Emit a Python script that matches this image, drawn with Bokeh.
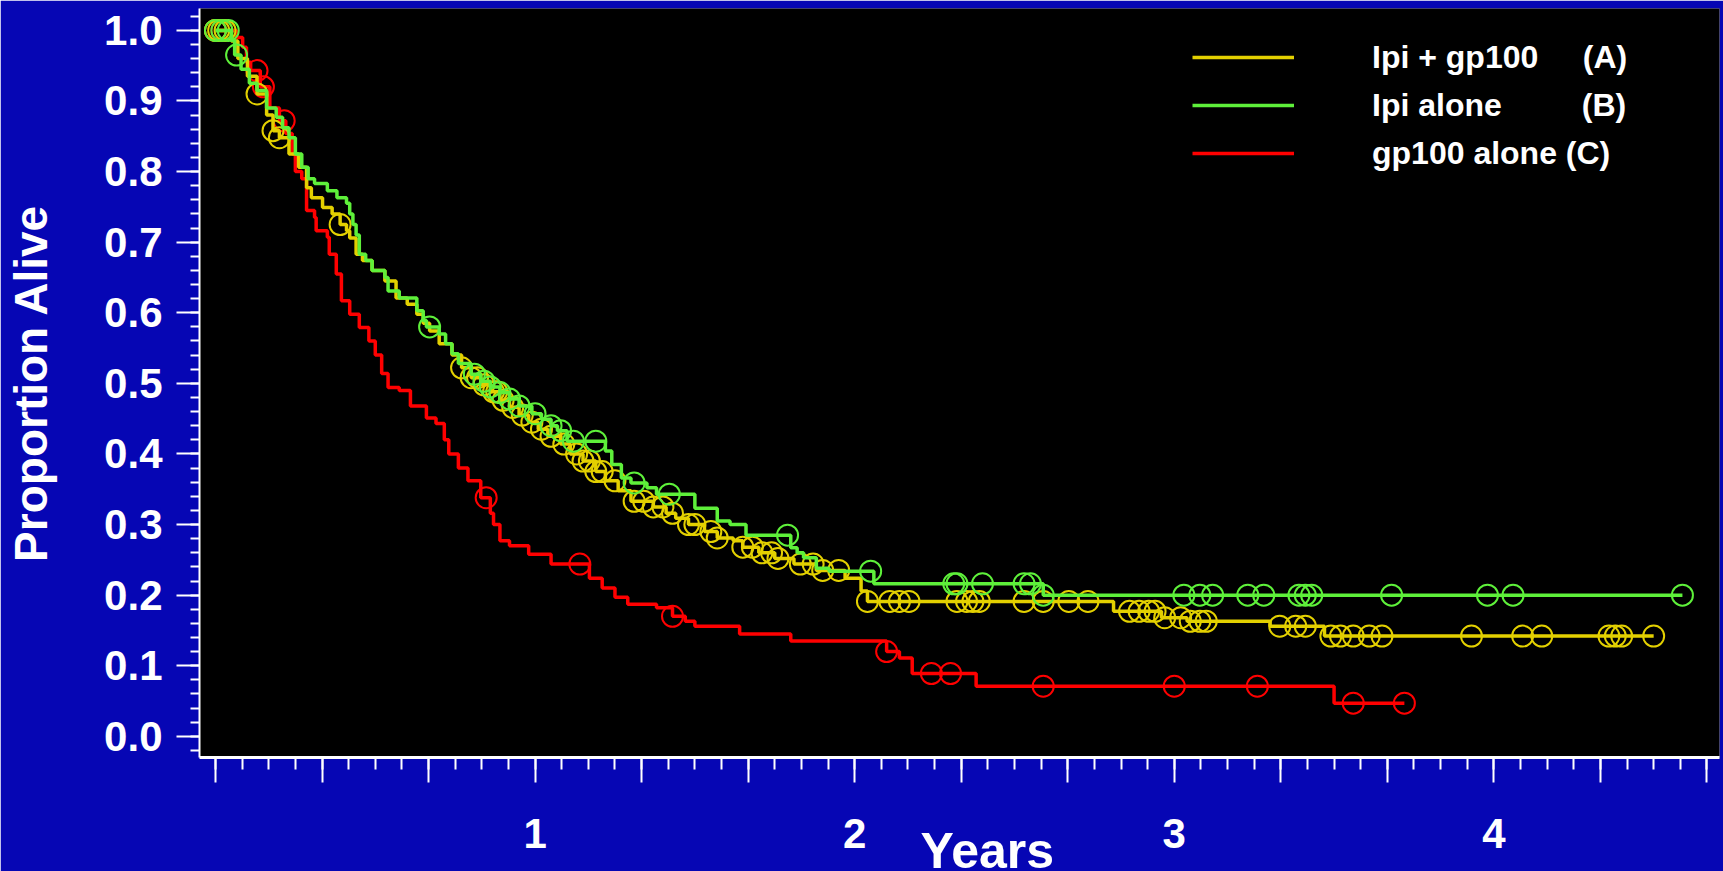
import numpy as np
from bokeh.plotting import figure
from bokeh.models import (FixedTicker, CustomJSTickFormatter, PrintfTickFormatter,
                          Legend, LegendItem, Range1d)
from bokeh.embed import file_html
from bokeh.resources import INLINE

# ---------------- data (years, proportion alive) ----------------
# Ipi + gp100 (A)
a_t = [0.00, 0.05, 0.07, 0.10, 0.13, 0.16, 0.18, 0.20, 0.23, 0.26, 0.285, 0.30, 0.335, 0.365,
       0.39, 0.41, 0.42, 0.44, 0.46, 0.49, 0.53, 0.565, 0.60, 0.63, 0.65, 0.67, 0.70, 0.74,
       0.77, 0.80, 0.83, 0.86, 0.89, 0.92, 0.95, 0.98, 1.01, 1.04, 1.08, 1.11, 1.15, 1.19,
       1.22, 1.26, 1.30, 1.37, 1.41, 1.44, 1.48, 1.53, 1.57, 1.62, 1.65, 1.70, 1.75, 1.81,
       1.88, 1.97, 2.02, 2.04, 2.81, 2.96, 3.04, 3.30, 3.47]
a_s = [1.000, 0.985, 0.960, 0.935, 0.910, 0.880, 0.858, 0.848, 0.825, 0.806, 0.777, 0.763, 0.749, 0.740,
       0.725, 0.716, 0.706, 0.683, 0.674, 0.660, 0.645, 0.621, 0.612, 0.598, 0.585, 0.574, 0.556, 0.540,
       0.522, 0.508, 0.498, 0.488, 0.476, 0.466, 0.455, 0.445, 0.435, 0.425, 0.414, 0.400, 0.390, 0.375,
       0.362, 0.348, 0.333, 0.325, 0.316, 0.309, 0.300, 0.290, 0.281, 0.277, 0.268, 0.260, 0.252, 0.244,
       0.235, 0.224, 0.206, 0.191, 0.177, 0.168, 0.163, 0.156, 0.142]
a_end = 4.50
a_cens = [0.0, 0.01, 0.03, 0.13, 0.18, 0.20, 0.39, 0.77, 0.80, 0.82, 0.84, 0.87, 0.88, 0.90, 0.93,
          0.96, 0.99, 1.02, 1.05, 1.09, 1.13, 1.15, 1.17, 1.19, 1.21, 1.25, 1.31, 1.34, 1.37, 1.40,
          1.43, 1.48, 1.50, 1.55, 1.57, 1.65, 1.68, 1.71, 1.74, 1.76, 1.83, 1.87, 1.90, 1.95, 2.04,
          2.11, 2.14, 2.17, 2.32, 2.35, 2.37, 2.39, 2.53, 2.59, 2.67, 2.73, 2.86, 2.89, 2.92, 2.94,
          2.97, 3.02, 3.05, 3.08, 3.10, 3.33, 3.38, 3.41, 3.49, 3.52, 3.56, 3.61, 3.65, 3.93, 4.09,
          4.15, 4.36, 4.38, 4.40, 4.50]

# Ipi alone (B)
b_t = [0.00, 0.05, 0.06, 0.08, 0.106, 0.13, 0.16, 0.19, 0.21, 0.23, 0.25, 0.27, 0.29, 0.31, 0.35,
       0.38, 0.41, 0.42, 0.43, 0.44, 0.45, 0.47, 0.49, 0.53, 0.54, 0.575, 0.63, 0.65, 0.66, 0.70,
       0.72, 0.74, 0.76, 0.80, 0.83, 0.86, 0.89, 0.92, 0.95, 0.99, 1.02, 1.05, 1.07, 1.10, 1.22,
       1.24, 1.27, 1.30, 1.35, 1.38, 1.50, 1.57, 1.61, 1.66, 1.80, 1.82, 1.84, 1.88, 1.92, 2.06, 2.59]
b_s = [1.000, 0.986, 0.965, 0.945, 0.925, 0.915, 0.890, 0.877, 0.862, 0.848, 0.825, 0.806, 0.790, 0.783, 0.773,
       0.763, 0.755, 0.740, 0.725, 0.710, 0.683, 0.674, 0.660, 0.650, 0.631, 0.621, 0.603, 0.589, 0.580, 0.570,
       0.556, 0.542, 0.528, 0.513, 0.503, 0.495, 0.487, 0.478, 0.468, 0.457, 0.449, 0.440, 0.433, 0.418, 0.404,
       0.385, 0.366, 0.359, 0.352, 0.343, 0.323, 0.305, 0.300, 0.285, 0.267, 0.260, 0.253, 0.238, 0.234, 0.216, 0.200]
b_end = 4.59
b_cens = [0.0, 0.02, 0.04, 0.066, 0.67, 0.81, 0.84, 0.86, 0.89, 0.92, 0.95, 1.00, 1.05, 1.08, 1.12,
          1.19, 1.31, 1.42, 1.79, 2.05, 2.31, 2.32, 2.40, 2.53, 2.55, 2.59, 3.03, 3.08, 3.12, 3.23,
          3.28, 3.39, 3.41, 3.43, 3.68, 3.98, 4.06, 4.59]

# gp100 alone (C)
c_t = [0.00, 0.066, 0.085, 0.097, 0.11, 0.14, 0.17, 0.20, 0.22, 0.24, 0.25, 0.27, 0.285, 0.31, 0.315,
       0.35, 0.356, 0.378, 0.394, 0.42, 0.45, 0.48, 0.50, 0.52, 0.54, 0.575, 0.61, 0.66, 0.69, 0.716,
       0.73, 0.76, 0.79, 0.83, 0.86, 0.87, 0.89, 0.92, 0.98, 1.05, 1.17, 1.21, 1.25, 1.29, 1.38, 1.43,
       1.47, 1.50, 1.64, 1.80, 2.10, 2.14, 2.18, 2.38, 3.50]
c_s = [1.000, 0.990, 0.976, 0.955, 0.943, 0.920, 0.890, 0.872, 0.854, 0.825, 0.800, 0.790, 0.745, 0.735, 0.716,
       0.707, 0.683, 0.655, 0.617, 0.598, 0.579, 0.560, 0.540, 0.514, 0.494, 0.490, 0.468, 0.451, 0.443, 0.420,
       0.400, 0.380, 0.362, 0.338, 0.316, 0.300, 0.277, 0.270, 0.258, 0.244, 0.224, 0.210, 0.197, 0.187, 0.182, 0.170,
       0.163, 0.156, 0.145, 0.135, 0.120, 0.111, 0.089, 0.071, 0.047]
c_end = 3.72
c_cens = [0.0, 0.02, 0.13, 0.15, 0.215, 0.847, 1.14, 1.43, 2.10, 2.24, 2.30, 2.59, 3.00, 3.26, 3.56, 3.72]

arm_names = ["Ipi + gp100\u00a0\u00a0\u00a0\u00a0\u00a0(A)",
             "Ipi alone\u00a0\u00a0\u00a0\u00a0\u00a0\u00a0\u00a0\u00a0\u00a0(B)",
             "gp100 alone (C)"]
arm_colors = ["#E3D000", "#5EF03A", "#FF0000"]

y_major = [0.0, 0.1, 0.2, 0.3, 0.4, 0.5, 0.6, 0.7, 0.8, 0.9, 1.0]
y_minor = [round(-0.02 + 0.02 * k, 2) for k in range(53)]
x_major = [k / 3 for k in range(15)]     # every 4 months
x_minor = [k / 12 for k in range(57)]    # every month

BG_BLUE = "#0606B4"
FONT = "Liberation Sans"

p = figure(frame_width=1520, frame_height=749, output_backend="svg", toolbar_location=None,
           x_range=Range1d(-0.05, 4.706), y_range=Range1d(-0.03, 1.031),
           min_border_left=199, min_border_right=4, min_border_top=8, min_border_bottom=0)
p.background_fill_color = "black"
p.border_fill_color = BG_BLUE
p.outline_line_color = None
p.grid.visible = False


def km(t, s, end, cens, color):
    xs = list(t) + [end]
    ys = list(s) + [s[-1]]
    r = p.step(xs, ys, mode="after", line_color=color, line_width=3.5)
    ta = np.array(t)
    sa = np.array(s)
    ca = np.array(cens)
    idx = np.searchsorted(ta, ca, side="right") - 1
    p.scatter(ca, sa[idx], marker="circle", size=21, fill_color=None,
              line_color=color, line_width=2)
    return r


r_c = km(c_t, c_s, c_end, c_cens, arm_colors[2])
r_a = km(a_t, a_s, a_end, a_cens, arm_colors[0])
r_b = km(b_t, b_s, b_end, b_cens, arm_colors[1])

legend = Legend(items=[LegendItem(label=arm_names[0], renderers=[r_a]),
                       LegendItem(label=arm_names[1], renderers=[r_b]),
                       LegendItem(label=arm_names[2], renderers=[r_c])],
                location=(993, 580), glyph_width=102, glyph_height=48, label_height=48,
                label_standoff=78, spacing=0, padding=0, margin=0,
                border_line_color=None, background_fill_alpha=0,
                label_text_color="white", label_text_font=FONT, label_text_font_style="bold",
                label_text_font_size="32px")
p.add_layout(legend)

# axes
for ax in (p.xaxis[0], p.yaxis[0]):
    ax.axis_line_color = "white"
    ax.major_tick_line_color = "white"
    ax.minor_tick_line_color = "white"
    ax.major_tick_in = 0
    ax.minor_tick_in = 0
    ax.major_label_text_color = "white"
    ax.major_label_text_font = FONT
    ax.major_label_text_font_style = "bold"
    ax.major_label_text_font_size = "42px"
    ax.major_tick_line_width = 2
    ax.minor_tick_line_width = 2
    ax.axis_label_text_color = "white"
    ax.axis_label_text_font = FONT
    ax.axis_label_text_font_style = "bold"

p.xaxis.axis_line_width = 3
p.yaxis.axis_line_width = 2
p.xaxis.ticker = FixedTicker(ticks=x_major, minor_ticks=x_minor)
p.xaxis.formatter = CustomJSTickFormatter(code="""
    const r = Math.round(tick);
    return (Math.abs(tick - r) < 1e-6 && r > 0) ? r.toString() : "";
""")
p.xaxis.major_tick_out = 25
p.xaxis.minor_tick_out = 12
p.xaxis.major_label_standoff = 36
p.xaxis.axis_label = "\u00a0\u00a0\u00a0\u00a0Years"
p.xaxis.axis_label_text_font_size = "50px"
p.xaxis.axis_label_standoff = -28

p.yaxis.ticker = FixedTicker(ticks=y_major, minor_ticks=y_minor)
p.yaxis.formatter = PrintfTickFormatter(format="%.1f")
p.yaxis.major_tick_out = 23
p.yaxis.minor_tick_out = 9
p.yaxis.major_label_standoff = 14
p.yaxis.axis_label = "Proportion Alive"
p.yaxis.axis_label_text_font_size = "46px"
p.yaxis.axis_label_standoff = 44

open("out.html", "w").write(file_html(p, INLINE))
